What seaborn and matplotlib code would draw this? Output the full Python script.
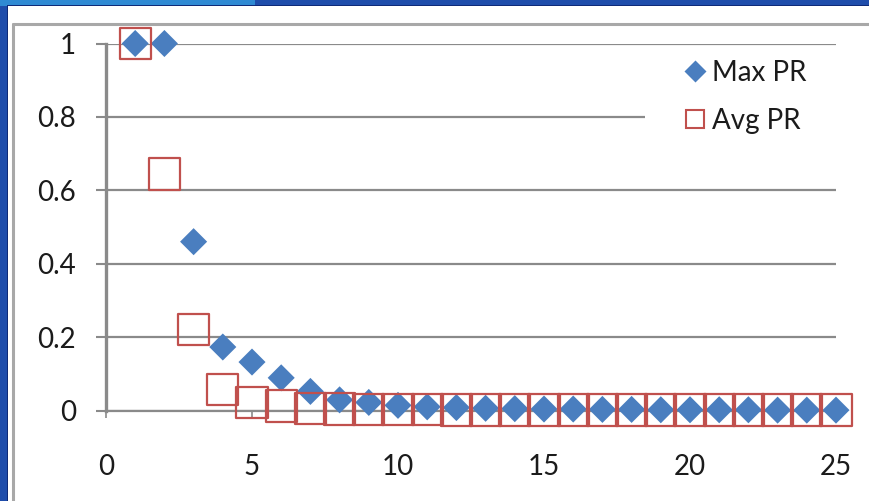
import matplotlib
matplotlib.use("Agg")
import matplotlib.pyplot as plt
from matplotlib.patches import Rectangle
from matplotlib.lines import Line2D
from matplotlib.ticker import FuncFormatter
import seaborn as sns
import pandas as pd

# Iteration index and the two PageRank-change series
iterations = list(range(1, 26))
max_pr = [1.0, 1.0, 0.46, 0.173, 0.132, 0.089, 0.052, 0.029, 0.022, 0.014,
          0.010, 0.008, 0.006, 0.005, 0.004, 0.004, 0.003, 0.003, 0.002, 0.002,
          0.002, 0.002, 0.001, 0.001, 0.001]
avg_pr = [1.0, 0.644, 0.221, 0.057, 0.022, 0.012, 0.006, 0.004, 0.003, 0.002,
          0.002, 0.001, 0.001, 0.001, 0.001, 0.001, 0.001, 0.001, 0.001, 0.001,
          0.001, 0.001, 0.001, 0.001, 0.001]
series_names = ["Max PR", "Avg PR"]
x_ticks = [0, 5, 10, 15, 20, 25]
y_ticks = [0, 0.2, 0.4, 0.6, 0.8, 1.0]

df = pd.DataFrame({"iter": iterations, "max": max_pr, "avg": avg_pr})

sns.set_theme(style="white")
plt.rcParams["font.family"] = ["Lato", "DejaVu Sans"]

W, H = 870, 501
fig = plt.figure(figsize=(W / 100, H / 100), dpi=100)


def fx(px):
    return px / W


def fy(py):
    return 1 - py / H


# Slide backdrop and chart frame
fig.patches.append(Rectangle((0, 0), 1, 1, transform=fig.transFigure,
                             facecolor="#1f4dab", edgecolor="none", zorder=-10))
fig.patches.append(Rectangle((0, fy(6)), fx(255), 6 / H, transform=fig.transFigure,
                             facecolor="#2f8ad3", edgecolor="none", zorder=-9))
fig.patches.append(Rectangle((fx(7), 0), 1, fy(5), transform=fig.transFigure,
                             facecolor="#0f2a78", edgecolor="none", zorder=-8))
fig.patches.append(Rectangle((fx(8), 0), 1, fy(6), transform=fig.transFigure,
                             facecolor="white", edgecolor="none", zorder=-7))
fig.lines.append(Line2D([fx(13), fx(13)], [0, fy(24)], transform=fig.transFigure,
                        color="#a8a8a8", lw=2.2, zorder=-6))
fig.lines.append(Line2D([fx(13), 1], [fy(24), fy(24)], transform=fig.transFigure,
                        color="#a8a8a8", lw=2.2, zorder=-6))

ax = fig.add_axes([fx(106), fy(410.5), fx(730), 367 / H])
ax.set_facecolor("none")

sns.scatterplot(data=df, x="iter", y="max", marker="D", s=190, color="#4a7ebf",
                edgecolor="none", linewidth=0, clip_on=False, zorder=4, ax=ax)
sns.scatterplot(data=df, x="iter", y="avg", marker="s", s=510, color="#c0504d",
                facecolor="none", edgecolor="#c0504d", linewidth=1.6,
                clip_on=False, zorder=5, ax=ax)

ax.set_xlim(0, 25)
ax.set_ylim(0, 1)
ax.set_xticks(x_ticks)
ax.set_yticks(y_ticks)
ax.yaxis.set_major_formatter(FuncFormatter(lambda v, p: f"{v:g}"))
ax.set_xlabel("")
ax.set_ylabel("")

grid_col = "#8a8a8a"
ax.yaxis.grid(True, color=grid_col, lw=1.6, zorder=1)
ax.xaxis.grid(False)
ax.set_axisbelow(True)
for side in ("top", "right"):
    ax.spines[side].set_visible(False)
ax.spines["left"].set_color(grid_col)
ax.spines["left"].set_linewidth(2.4)
ax.spines["bottom"].set_color(grid_col)
ax.spines["bottom"].set_linewidth(1.6)

ax.tick_params(axis="y", direction="out", length=7.5, width=1.5, color=grid_col,
               pad=14, labelsize=20, labelcolor="#1b1b1b", left=True)
ax.tick_params(axis="x", direction="out", length=5, width=1.2, color=grid_col,
               pad=26, labelsize=20, labelcolor="#1b1b1b", bottom=True)

# Legend area with white fill
fig.patches.append(Rectangle((fx(645), fy(134)), fx(191), 82 / H,
                             transform=fig.transFigure, facecolor="white",
                             edgecolor="none", zorder=2))
handles = [
    Line2D([], [], linestyle="none", marker="D", markersize=11.5,
           markerfacecolor="#4a7ebf", markeredgecolor="none"),
    Line2D([], [], linestyle="none", marker="s", markersize=12.5,
           markerfacecolor="none", markeredgecolor="#c0504d", markeredgewidth=1.5),
]
leg = fig.legend(handles, series_names, loc="upper left",
                 bbox_to_anchor=(fx(676), fy(54)), bbox_transform=fig.transFigure,
                 frameon=False, fontsize=20, handlelength=1.0, handletextpad=0.1,
                 labelspacing=0.8, borderpad=0.2, borderaxespad=0)
for t in leg.get_texts():
    t.set_color("#1b1b1b")
leg.set_zorder(6)

fig.savefig("out.png", dpi=100)
